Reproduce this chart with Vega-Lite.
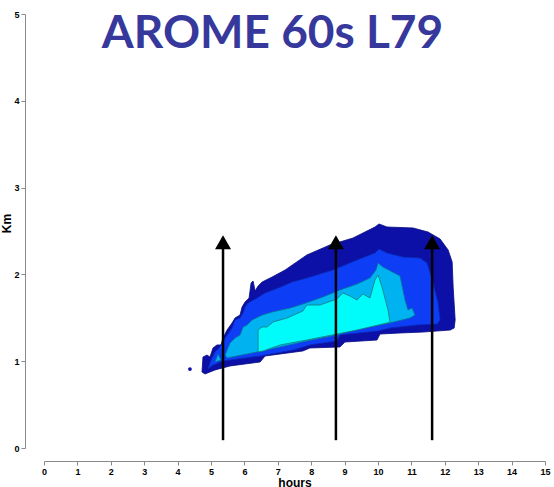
{
  "$schema": "https://vega.github.io/schema/vega-lite/v6.json",
  "width": 501,
  "height": 434,
  "autosize": "none",
  "padding": {"left": 44, "top": 14, "right": 9, "bottom": 39},
  "background": "white",
  "title": {
    "text": "AROME 60s L79",
    "font": "Lato",
    "fontSize": 46,
    "fontWeight": "bold",
    "color": "#36389c",
    "anchor": "middle",
    "frame": "group",
    "baseline": "alphabetic",
    "offset": 0,
    "dx": -22,
    "dy": 84
  },
  "config": {
    "view": {"stroke": null},
    "axis": {
      "grid": false,
      "domainColor": "#8a8a8a",
      "tickColor": "#8a8a8a",
      "tickSize": 4,
      "labelFont": "Liberation Sans",
      "labelFontWeight": "bold",
      "labelFontSize": 9,
      "labelColor": "#000000",
      "labelOverlap": false,
      "labelBound": false,
      "labelFlush": false,
      "format": "d",
      "titleFont": "Liberation Sans",
      "titleFontWeight": "bold",
      "titleFontSize": 12,
      "titleColor": "#000000"
    }
  },
  "datasets": {
    "contours": [
      {"level": 1, "ord": 1, "hours": 4.73, "km": 0.876},
      {"level": 1, "ord": 2, "hours": 4.76, "km": 1.048},
      {"level": 1, "ord": 3, "hours": 4.88, "km": 1.071},
      {"level": 1, "ord": 4, "hours": 4.97, "km": 1.048},
      {"level": 1, "ord": 5, "hours": 5.06, "km": 1.152},
      {"level": 1, "ord": 6, "hours": 5.18, "km": 1.187},
      {"level": 1, "ord": 7, "hours": 5.30, "km": 1.187},
      {"level": 1, "ord": 8, "hours": 5.36, "km": 1.267},
      {"level": 1, "ord": 9, "hours": 5.48, "km": 1.359},
      {"level": 1, "ord": 10, "hours": 5.63, "km": 1.440},
      {"level": 1, "ord": 11, "hours": 5.72, "km": 1.498},
      {"level": 1, "ord": 12, "hours": 5.87, "km": 1.532},
      {"level": 1, "ord": 13, "hours": 5.93, "km": 1.624},
      {"level": 1, "ord": 14, "hours": 6.02, "km": 1.682},
      {"level": 1, "ord": 15, "hours": 6.14, "km": 1.728},
      {"level": 1, "ord": 16, "hours": 6.20, "km": 1.901},
      {"level": 1, "ord": 17, "hours": 6.26, "km": 1.924},
      {"level": 1, "ord": 18, "hours": 6.32, "km": 1.809},
      {"level": 1, "ord": 19, "hours": 6.41, "km": 1.866},
      {"level": 1, "ord": 20, "hours": 6.53, "km": 1.912},
      {"level": 1, "ord": 21, "hours": 6.83, "km": 1.970},
      {"level": 1, "ord": 22, "hours": 7.22, "km": 2.051},
      {"level": 1, "ord": 23, "hours": 7.87, "km": 2.224},
      {"level": 1, "ord": 24, "hours": 8.56, "km": 2.339},
      {"level": 1, "ord": 25, "hours": 9.25, "km": 2.419},
      {"level": 1, "ord": 26, "hours": 9.91, "km": 2.546},
      {"level": 1, "ord": 27, "hours": 10.03, "km": 2.581},
      {"level": 1, "ord": 28, "hours": 10.27, "km": 2.546},
      {"level": 1, "ord": 29, "hours": 11.05, "km": 2.535},
      {"level": 1, "ord": 30, "hours": 11.50, "km": 2.488},
      {"level": 1, "ord": 31, "hours": 11.86, "km": 2.408},
      {"level": 1, "ord": 32, "hours": 12.10, "km": 2.281},
      {"level": 1, "ord": 33, "hours": 12.22, "km": 2.143},
      {"level": 1, "ord": 34, "hours": 12.25, "km": 1.855},
      {"level": 1, "ord": 35, "hours": 12.31, "km": 1.475},
      {"level": 1, "ord": 36, "hours": 12.28, "km": 1.382},
      {"level": 1, "ord": 37, "hours": 12.16, "km": 1.359},
      {"level": 1, "ord": 38, "hours": 11.35, "km": 1.336},
      {"level": 1, "ord": 39, "hours": 10.66, "km": 1.325},
      {"level": 1, "ord": 40, "hours": 10.06, "km": 1.313},
      {"level": 1, "ord": 41, "hours": 9.97, "km": 1.244},
      {"level": 1, "ord": 42, "hours": 9.01, "km": 1.221},
      {"level": 1, "ord": 43, "hours": 8.86, "km": 1.164},
      {"level": 1, "ord": 44, "hours": 7.96, "km": 1.152},
      {"level": 1, "ord": 45, "hours": 7.75, "km": 1.118},
      {"level": 1, "ord": 46, "hours": 6.62, "km": 1.060},
      {"level": 1, "ord": 47, "hours": 6.47, "km": 0.991},
      {"level": 1, "ord": 48, "hours": 5.57, "km": 0.945},
      {"level": 1, "ord": 49, "hours": 5.12, "km": 0.899},
      {"level": 1, "ord": 50, "hours": 4.82, "km": 0.853},

      {"level": 2, "ord": 1, "hours": 4.91, "km": 0.910},
      {"level": 2, "ord": 2, "hours": 5.00, "km": 1.014},
      {"level": 2, "ord": 3, "hours": 5.12, "km": 1.106},
      {"level": 2, "ord": 4, "hours": 5.24, "km": 1.152},
      {"level": 2, "ord": 5, "hours": 5.42, "km": 1.267},
      {"level": 2, "ord": 6, "hours": 5.63, "km": 1.382},
      {"level": 2, "ord": 7, "hours": 5.72, "km": 1.475},
      {"level": 2, "ord": 8, "hours": 5.87, "km": 1.498},
      {"level": 2, "ord": 9, "hours": 5.96, "km": 1.555},
      {"level": 2, "ord": 10, "hours": 6.02, "km": 1.624},
      {"level": 2, "ord": 11, "hours": 6.11, "km": 1.671},
      {"level": 2, "ord": 12, "hours": 6.38, "km": 1.728},
      {"level": 2, "ord": 13, "hours": 6.62, "km": 1.786},
      {"level": 2, "ord": 14, "hours": 7.01, "km": 1.843},
      {"level": 2, "ord": 15, "hours": 7.43, "km": 1.912},
      {"level": 2, "ord": 16, "hours": 7.87, "km": 1.959},
      {"level": 2, "ord": 17, "hours": 8.65, "km": 2.051},
      {"level": 2, "ord": 18, "hours": 9.37, "km": 2.166},
      {"level": 2, "ord": 19, "hours": 9.91, "km": 2.247},
      {"level": 2, "ord": 20, "hours": 10.03, "km": 2.293},
      {"level": 2, "ord": 21, "hours": 10.27, "km": 2.247},
      {"level": 2, "ord": 22, "hours": 10.75, "km": 2.200},
      {"level": 2, "ord": 23, "hours": 11.26, "km": 2.189},
      {"level": 2, "ord": 24, "hours": 11.47, "km": 2.131},
      {"level": 2, "ord": 25, "hours": 11.65, "km": 1.901},
      {"level": 2, "ord": 26, "hours": 11.80, "km": 1.671},
      {"level": 2, "ord": 27, "hours": 11.86, "km": 1.475},
      {"level": 2, "ord": 28, "hours": 11.77, "km": 1.429},
      {"level": 2, "ord": 29, "hours": 11.17, "km": 1.417},
      {"level": 2, "ord": 30, "hours": 10.36, "km": 1.382},
      {"level": 2, "ord": 31, "hours": 10.00, "km": 1.348},
      {"level": 2, "ord": 32, "hours": 8.86, "km": 1.302},
      {"level": 2, "ord": 33, "hours": 8.77, "km": 1.233},
      {"level": 2, "ord": 34, "hours": 7.96, "km": 1.187},
      {"level": 2, "ord": 35, "hours": 7.46, "km": 1.129},
      {"level": 2, "ord": 36, "hours": 6.47, "km": 1.060},
      {"level": 2, "ord": 37, "hours": 5.36, "km": 1.002},
      {"level": 2, "ord": 38, "hours": 5.06, "km": 0.956},

      {"level": 3, "ord": 1, "hours": 5.42, "km": 1.071},
      {"level": 3, "ord": 2, "hours": 5.57, "km": 1.210},
      {"level": 3, "ord": 3, "hours": 5.72, "km": 1.267},
      {"level": 3, "ord": 4, "hours": 5.87, "km": 1.302},
      {"level": 3, "ord": 5, "hours": 5.96, "km": 1.394},
      {"level": 3, "ord": 6, "hours": 6.08, "km": 1.417},
      {"level": 3, "ord": 7, "hours": 6.23, "km": 1.475},
      {"level": 3, "ord": 8, "hours": 6.53, "km": 1.532},
      {"level": 3, "ord": 9, "hours": 6.83, "km": 1.567},
      {"level": 3, "ord": 10, "hours": 7.37, "km": 1.613},
      {"level": 3, "ord": 11, "hours": 7.75, "km": 1.659},
      {"level": 3, "ord": 12, "hours": 8.35, "km": 1.740},
      {"level": 3, "ord": 13, "hours": 8.86, "km": 1.820},
      {"level": 3, "ord": 14, "hours": 9.37, "km": 1.889},
      {"level": 3, "ord": 15, "hours": 9.76, "km": 1.959},
      {"level": 3, "ord": 16, "hours": 9.94, "km": 2.051},
      {"level": 3, "ord": 17, "hours": 10.00, "km": 2.131},
      {"level": 3, "ord": 18, "hours": 10.15, "km": 2.085},
      {"level": 3, "ord": 19, "hours": 10.66, "km": 1.982},
      {"level": 3, "ord": 20, "hours": 10.81, "km": 1.705},
      {"level": 3, "ord": 21, "hours": 10.90, "km": 1.590},
      {"level": 3, "ord": 22, "hours": 11.02, "km": 1.613},
      {"level": 3, "ord": 23, "hours": 11.11, "km": 1.532},
      {"level": 3, "ord": 24, "hours": 10.96, "km": 1.498},
      {"level": 3, "ord": 25, "hours": 10.36, "km": 1.440},
      {"level": 3, "ord": 26, "hours": 9.37, "km": 1.371},
      {"level": 3, "ord": 27, "hours": 8.77, "km": 1.302},
      {"level": 3, "ord": 28, "hours": 7.87, "km": 1.233},
      {"level": 3, "ord": 29, "hours": 7.07, "km": 1.164},
      {"level": 3, "ord": 30, "hours": 6.38, "km": 1.106},
      {"level": 3, "ord": 31, "hours": 5.78, "km": 1.060},
      {"level": 3, "ord": 32, "hours": 5.48, "km": 1.037},

      {"level": 5, "ord": 1, "hours": 5.12, "km": 0.991},
      {"level": 5, "ord": 2, "hours": 5.21, "km": 1.083},
      {"level": 5, "ord": 3, "hours": 5.30, "km": 1.014},

      {"level": 4, "ord": 1, "hours": 6.41, "km": 1.106},
      {"level": 4, "ord": 2, "hours": 6.41, "km": 1.359},
      {"level": 4, "ord": 3, "hours": 6.53, "km": 1.394},
      {"level": 4, "ord": 4, "hours": 6.68, "km": 1.394},
      {"level": 4, "ord": 5, "hours": 6.86, "km": 1.452},
      {"level": 4, "ord": 6, "hours": 7.28, "km": 1.498},
      {"level": 4, "ord": 7, "hours": 7.75, "km": 1.578},
      {"level": 4, "ord": 8, "hours": 7.87, "km": 1.647},
      {"level": 4, "ord": 9, "hours": 8.26, "km": 1.647},
      {"level": 4, "ord": 10, "hours": 8.77, "km": 1.717},
      {"level": 4, "ord": 11, "hours": 8.95, "km": 1.786},
      {"level": 4, "ord": 12, "hours": 9.16, "km": 1.751},
      {"level": 4, "ord": 13, "hours": 9.37, "km": 1.705},
      {"level": 4, "ord": 14, "hours": 9.55, "km": 1.774},
      {"level": 4, "ord": 15, "hours": 9.76, "km": 1.728},
      {"level": 4, "ord": 16, "hours": 9.91, "km": 1.935},
      {"level": 4, "ord": 17, "hours": 10.00, "km": 1.993},
      {"level": 4, "ord": 18, "hours": 10.12, "km": 1.855},
      {"level": 4, "ord": 19, "hours": 10.30, "km": 1.590},
      {"level": 4, "ord": 20, "hours": 10.36, "km": 1.452},
      {"level": 4, "ord": 21, "hours": 10.27, "km": 1.440},
      {"level": 4, "ord": 22, "hours": 9.37, "km": 1.359},
      {"level": 4, "ord": 23, "hours": 8.77, "km": 1.313},
      {"level": 4, "ord": 24, "hours": 7.87, "km": 1.244},
      {"level": 4, "ord": 25, "hours": 7.07, "km": 1.187},
      {"level": 4, "ord": 26, "hours": 6.56, "km": 1.118}
    ],
    "cells": [
      {"hours": 4.37, "km": 0.91}
    ],
    "arrows": [
      {"hours": 5.36, "km": 0.09, "tip": 2.34},
      {"hours": 8.74, "km": 0.09, "tip": 2.34},
      {"hours": 11.62, "km": 0.09, "tip": 2.34}
    ],
    "heads": [
      {"hours": 5.36, "km": 2.37},
      {"hours": 8.74, "km": 2.37},
      {"hours": 11.62, "km": 2.37}
    ]
  },
  "encoding": {
    "x": {"field": "hours", "type": "quantitative", "scale": {"domain": [0, 15], "nice": false},
      "axis": {"title": "hours", "values": [0,1,2,3,4,5,6,7,8,9,10,11,12,13,14,15], "labelOverlap": false, "offset": 13, "labelPadding": 2, "titlePadding": 1}},
    "y": {"field": "km", "type": "quantitative", "scale": {"domain": [0, 5], "nice": false},
      "axis": {"title": "Km", "values": [0,1,2,3,4,5], "labelOverlap": false, "offset": 19, "labelPadding": 2, "titleX": -12, "titleY": 209}}
  },
  "layer": [
    {
      "data": {"name": "contours"},
      "transform": [{"filter": "datum.level == 1"}],
      "mark": {"type": "line", "interpolate": "linear-closed", "fill": "#0c10a6", "stroke": "#080a80", "strokeWidth": 0.8},
      "encoding": {"order": {"field": "ord", "type": "quantitative"}}
    },
    {
      "data": {"name": "contours"},
      "transform": [{"filter": "datum.level == 2"}],
      "mark": {"type": "line", "interpolate": "linear-closed", "fill": "#0d3ef6", "stroke": "#0a28b0", "strokeWidth": 0.8},
      "encoding": {"order": {"field": "ord", "type": "quantitative"}}
    },
    {
      "data": {"name": "contours"},
      "transform": [{"filter": "datum.level == 3 || datum.level == 5"}],
      "mark": {"type": "line", "interpolate": "linear-closed", "fill": "#00b2f0", "stroke": "#0a6f9a", "strokeWidth": 0.8},
      "encoding": {
        "detail": {"field": "level", "type": "nominal"},
        "order": {"field": "ord", "type": "quantitative"}
      }
    },
    {
      "data": {"name": "contours"},
      "transform": [{"filter": "datum.level == 4"}],
      "mark": {"type": "line", "interpolate": "linear-closed", "fill": "#00fbfb", "stroke": "#1a7a7a", "strokeWidth": 0.8},
      "encoding": {"order": {"field": "ord", "type": "quantitative"}}
    },
    {
      "data": {"name": "cells"},
      "mark": {"type": "circle", "color": "#0c10a6", "opacity": 1, "size": 14},
      "encoding": {}
    },
    {
      "data": {"name": "arrows"},
      "mark": {"type": "rule", "color": "#000000", "strokeWidth": 2.5},
      "encoding": {"y2": {"field": "tip"}}
    },
    {
      "data": {"name": "heads"},
      "mark": {"type": "point", "shape": "triangle-up", "filled": true, "color": "#000000", "opacity": 1, "size": 256},
      "encoding": {}
    }
  ]
}
